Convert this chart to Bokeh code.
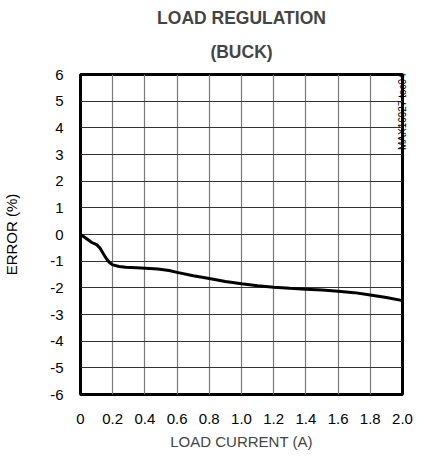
import math
from bokeh.plotting import figure
from bokeh.models import FixedTicker, Range1d, Title, LinearAxis
from bokeh.embed import file_html
from bokeh.resources import INLINE

title_lines = ["LOAD REGULATION", "(BUCK)"]
x_label = "LOAD CURRENT (A)"
y_label = "ERROR (%)"
side_note = "MAX16927 toc04"

x_ticks = [0, 0.2, 0.4, 0.6, 0.8, 1.0, 1.2, 1.4, 1.6, 1.8, 2.0]
x_tick_labels = ["0", "0.2", "0.4", "0.6", "0.8", "1.0", "1.2", "1.4", "1.6", "1.8", "2.0"]
y_ticks = [-6, -5, -4, -3, -2, -1, 0, 1, 2, 3, 4, 5, 6]
y_tick_labels = ["-6", "-5", "-4", "-3", "-2", "-1", "0", "1", "2", "3", "4", "5", "6"]

load_current = [0, 0.03, 0.07, 0.1, 0.12, 0.14, 0.16, 0.18, 0.2, 0.24, 0.28, 0.35, 0.48,
                0.55, 0.6, 0.7, 0.8, 0.9, 1.0, 1.1, 1.2, 1.3, 1.4, 1.5, 1.6, 1.7, 1.8, 1.9, 2.0]
error_pct = [0, -0.12, -0.3, -0.38, -0.5, -0.7, -0.9, -1.05, -1.14, -1.2, -1.23, -1.25, -1.29,
             -1.35, -1.42, -1.55, -1.65, -1.76, -1.85, -1.92, -1.98, -2.02, -2.05, -2.08,
             -2.13, -2.18, -2.27, -2.36, -2.48]

FONT = "Liberation Sans"

p = figure(width=416, height=454, output_backend="svg", toolbar_location=None,
           x_range=Range1d(0, 2.0), y_range=Range1d(-6, 6),
           min_border_left=0, min_border_right=0, min_border_top=0, min_border_bottom=0)
p.title = None
p.background_fill_color = "white"
p.border_fill_color = "white"
p.outline_line_color = "black"
p.outline_line_width = 3

for ax in (p.xaxis[0], p.yaxis[0]):
    ax.major_tick_line_color = None
    ax.minor_tick_line_color = None
    ax.major_tick_out = 0
    ax.major_tick_in = 0
    ax.minor_tick_out = 0
    ax.axis_line_color = None
    ax.major_label_text_font = FONT
    ax.major_label_text_font_size = "15px"
    ax.major_label_text_color = "black"
    ax.axis_label_text_font = FONT
    ax.axis_label_text_font_size = "15px"
    ax.axis_label_text_font_style = "normal"
    ax.axis_label_text_color = "black"

p.xaxis.ticker = FixedTicker(ticks=x_ticks)
p.xaxis.major_label_overrides = {t: l for t, l in zip(x_ticks, x_tick_labels)}
p.yaxis.ticker = FixedTicker(ticks=y_ticks)
p.yaxis.major_label_overrides = {t: l for t, l in zip(y_ticks, y_tick_labels)}
p.yaxis.axis_label = y_label
p.xaxis.major_label_standoff = 19
p.yaxis.major_label_standoff = 17
p.yaxis.axis_label_standoff = 27

p.xgrid.grid_line_color = "#7a7a7a"
p.ygrid.grid_line_color = "#333333"
p.xgrid.grid_line_width = 1.2
p.ygrid.grid_line_width = 1.2

p.line(load_current, error_pct, line_color="black", line_width=3)

p.add_layout(Title(text=x_label, align="center", text_font=FONT, text_font_size="15px",
                   text_font_style="normal", standoff=9), "below")

# side note reads bottom-to-top, starting from the frame bottom, padded so it ends near the top
side_axis = LinearAxis(ticker=FixedTicker(ticks=[]), axis_label="\u00a0" * 88 + side_note,
                       axis_line_color=None, major_tick_line_color=None,
                       minor_tick_line_color=None, major_tick_out=0, major_tick_in=0,
                       minor_tick_out=0, major_label_standoff=0,
                       major_label_text_font_size="0px",
                       axis_label_standoff=0, axis_label_text_font=FONT,
                       axis_label_text_font_size="10px", axis_label_text_font_style="normal",
                       axis_label_text_color="black",
                       axis_label_orientation=math.pi / 2, axis_label_align="start")
p.add_layout(side_axis, "right")

p.add_layout(Title(text=title_lines[1], align="center", text_font=FONT, text_font_size="17.5px",
                   text_font_style="bold", standoff=25), "above")
p.add_layout(Title(text=title_lines[0], align="center", text_font=FONT, text_font_size="17.5px",
                   text_font_style="bold", standoff=0), "above")
p.add_layout(Title(text=" ", align="center", text_font=FONT, text_font_size="3px",
                   standoff=0), "above")

open("out.html", "w").write(file_html(p, INLINE))
